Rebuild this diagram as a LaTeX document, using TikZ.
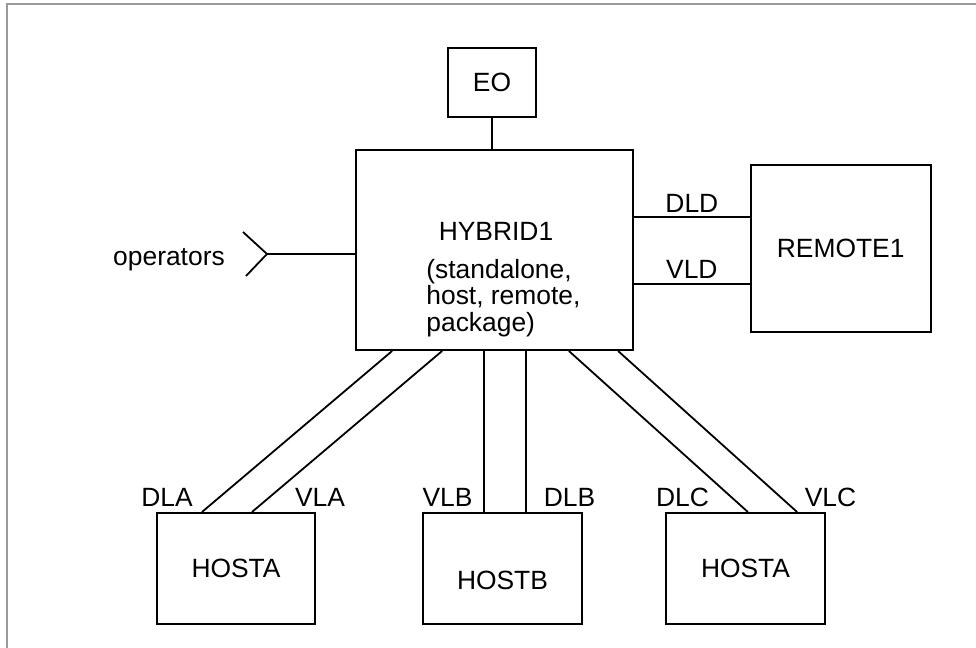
\documentclass[tikz,border=0pt]{standalone}
\usepackage{fontspec}
\setmainfont{Liberation Sans}
\usepackage{tikz}
\usetikzlibrary{positioning,calc}

\begin{document}
\begin{tikzpicture}[
  x=0.5pt, y=-0.5pt,
  font=\fontsize{13.2}{13.2}\selectfont,
  box/.style={rectangle, draw=black, line width=1pt, inner sep=0pt},
  conn/.style={line width=0.9pt, black},
  lbl/.style={inner sep=2pt},
  frame/.style={line width=1.2pt, gray!80}
]
\useasboundingbox (0,0) rectangle (976,648);
\draw[frame] (7,648) -- (7,4) -- (976,4);
\node[box, minimum width=44pt,  minimum height=34.5pt] (eo)     at (492,82.5)   {EO};
\node[box, minimum width=138.5pt, minimum height=100pt] (hyb)   at (494.5,250)  {};
\node[box, minimum width=90pt,  minimum height=83.5pt] (remote) at (840.7,248.5) {REMOTE1};
\node[box, minimum width=79pt,  minimum height=55.5pt] (hostA)  at (236,568.5)  {HOSTA};
\node[box, minimum width=79.5pt, minimum height=55.5pt] (hostB) at (502.5,568.5) {\raisebox{-6pt}[\height][0pt]{HOSTB}};
\node[box, minimum width=79.5pt, minimum height=55.5pt] (hostC) at (745.5,568.5) {HOSTA};
\node[anchor=base] (hybname) at (496,240) {HYBRID1};
\node[anchor=north west, align=left, inner sep=0pt] (hybmode) at (426,259) {(standalone,\\host, remote,\\package)};
\node[anchor=base] (ops) at (169,265) {operators};
\coordinate (optip) at (267,254);
% links
\draw[conn] (eo) -- (eo |- hyb.north);
\draw[conn] (optip) -- (optip -| hyb.west);
\draw[conn] (optip) ++(-24,-22) -- (optip) -- ++(-21,22);
\draw[conn] ([yshift=16.5pt]hyb.east) -- ([yshift=16.5pt]hyb.east -| remote.west) node[lbl,midway,above]{DLD};
\draw[conn] ([yshift=-16.8pt]hyb.east) -- ([yshift=-16.8pt]hyb.east -| remote.west) node[lbl,midway,above]{VLD};
\draw[conn] ([xshift=-51.2pt]hyb.south) -- ([xshift=-17pt]hostA.north);
\draw[conn] ([xshift=-26.2pt]hyb.south) -- ([xshift=8pt]hostA.north);
\draw[conn] ([xshift=-9.2pt]hostB.north) -- ([xshift=-9.2pt]hostB.north |- hyb.south);
\draw[conn] ([xshift=11.8pt]hostB.north) -- ([xshift=11.8pt]hostB.north |- hyb.south);
\draw[conn] ([xshift=37.2pt]hyb.south) -- ([xshift=1.2pt]hostC.north);
\draw[conn] ([xshift=61.8pt]hyb.south) -- ([xshift=25.8pt]hostC.north);
% line names
\node[anchor=base] (dla) at (167,506)   {DLA};
\node[anchor=base] (vla) at (320,506)   {VLA};
\node[anchor=base] (vlb) at (447.5,506) {VLB};
\node[anchor=base] (dlb) at (569.5,506) {DLB};
\node[anchor=base] (dlc) at (682.5,506) {DLC};
\node[anchor=base] (vlc) at (830.5,506) {VLC};
\end{tikzpicture}
\end{document}
